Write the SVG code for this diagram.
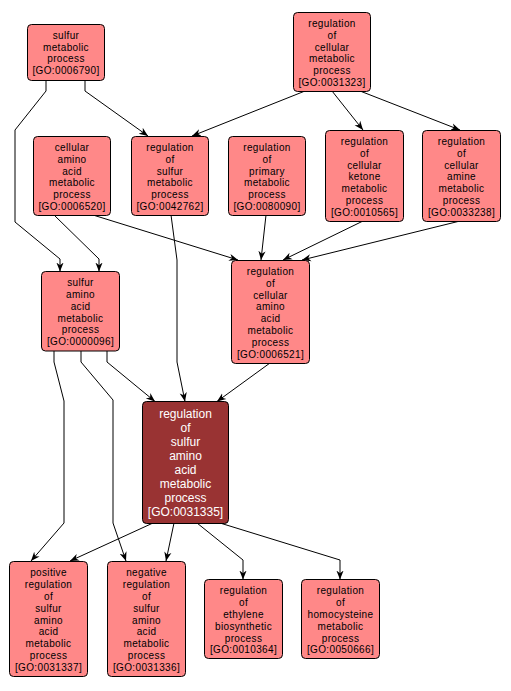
<svg xmlns="http://www.w3.org/2000/svg" width="511" height="691" viewBox="0 0 511 691">
<style>
.n rect{fill:#ff8888;stroke:#000;stroke-width:1}
.n text{font-family:"Liberation Sans",Arial,sans-serif;font-size:10px;letter-spacing:0.35px;text-anchor:middle;fill:#000}
.d rect{fill:#993333;stroke:#000;stroke-width:1}
.d text{font-family:"Liberation Sans",Arial,sans-serif;font-size:12px;text-anchor:middle;fill:#fff}
.e path{fill:none;stroke:#000;stroke-width:1;marker-end:url(#a)}
</style>
<defs>
<marker id="a" viewBox="0 0 10 10" markerWidth="9" markerHeight="9" refX="10" refY="5" orient="auto" markerUnits="userSpaceOnUse">
<path d="M0,1 L10,5 L0,9 L3,5 z" fill="#000"/>
</marker>
</defs>
<rect width="511" height="691" fill="#fff"/>
<g id="edges" class="e">
<path d="M46,80 L46,91 L15,130 L15,222 L60,259 L60,271.5"/>
<path d="M85,80 L85,91 L148,136"/>
<path d="M305,91 L192,136"/>
<path d="M332,91 L363,130"/>
<path d="M360,91 L460,130"/>
<path d="M54,215 L99,259 L99,271.5"/>
<path d="M93,215 L238,260"/>
<path d="M171,215 L177,260 L177,362 L185,401.5"/>
<path d="M266,215 L261,260"/>
<path d="M363,221 L283,260"/>
<path d="M460,221 L302,260"/>
<path d="M107,351 L107,362 L155,401.5"/>
<path d="M270,363 L217,401.5"/>
<path d="M54,351 L54,362 L64,401 L64,523 L31,561"/>
<path d="M81,351 L81,362 L113,400 L113,523 L126,561"/>
<path d="M153,523 L70,561"/>
<path d="M174,523 L166,561"/>
<path d="M197,523 L243,560 L243,579.5"/>
<path d="M220,523 L340,560 L340,579.5"/>
</g>
<g id="GO0006790" class="n"><rect x="27.5" y="24.5" width="77" height="56" rx="4"/>
<text><tspan x="66" y="38.7">sulfur</tspan><tspan x="66" y="50.5">metabolic</tspan><tspan x="66" y="62.3">process</tspan><tspan x="66" y="74.1">[GO:0006790]</tspan></text></g>
<g id="GO0031323" class="n"><rect x="293.5" y="12.5" width="77" height="79" rx="4"/>
<text><tspan x="332" y="27">regulation</tspan><tspan x="332" y="38.8">of</tspan><tspan x="332" y="50.6">cellular</tspan><tspan x="332" y="62.4">metabolic</tspan><tspan x="332" y="74.2">process</tspan><tspan x="332" y="86">[GO:0031323]</tspan></text></g>
<g id="GO0006520" class="n"><rect x="33.5" y="136.5" width="77" height="79" rx="4"/>
<text><tspan x="72" y="151">cellular</tspan><tspan x="72" y="162.8">amino</tspan><tspan x="72" y="174.6">acid</tspan><tspan x="72" y="186.4">metabolic</tspan><tspan x="72" y="198.2">process</tspan><tspan x="72" y="210">[GO:0006520]</tspan></text></g>
<g id="GO0042762" class="n"><rect x="131.5" y="136.5" width="77" height="79" rx="4"/>
<text><tspan x="170" y="151">regulation</tspan><tspan x="170" y="162.8">of</tspan><tspan x="170" y="174.6">sulfur</tspan><tspan x="170" y="186.4">metabolic</tspan><tspan x="170" y="198.2">process</tspan><tspan x="170" y="210">[GO:0042762]</tspan></text></g>
<g id="GO0080090" class="n"><rect x="228.5" y="136.5" width="77" height="79" rx="4"/>
<text><tspan x="267" y="151">regulation</tspan><tspan x="267" y="162.8">of</tspan><tspan x="267" y="174.6">primary</tspan><tspan x="267" y="186.4">metabolic</tspan><tspan x="267" y="198.2">process</tspan><tspan x="267" y="210">[GO:0080090]</tspan></text></g>
<g id="GO0010565" class="n"><rect x="325.5" y="130.5" width="78" height="91" rx="4"/>
<text><tspan x="364.5" y="145">regulation</tspan><tspan x="364.5" y="156.8">of</tspan><tspan x="364.5" y="168.6">cellular</tspan><tspan x="364.5" y="180.4">ketone</tspan><tspan x="364.5" y="192.2">metabolic</tspan><tspan x="364.5" y="204">process</tspan><tspan x="364.5" y="215.8">[GO:0010565]</tspan></text></g>
<g id="GO0033238" class="n"><rect x="422.5" y="130.5" width="78" height="91" rx="4"/>
<text><tspan x="461.5" y="145">regulation</tspan><tspan x="461.5" y="156.8">of</tspan><tspan x="461.5" y="168.6">cellular</tspan><tspan x="461.5" y="180.4">amine</tspan><tspan x="461.5" y="192.2">metabolic</tspan><tspan x="461.5" y="204">process</tspan><tspan x="461.5" y="215.8">[GO:0033238]</tspan></text></g>
<g id="GO0000096" class="n"><rect x="41.5" y="271.5" width="78" height="79.5" rx="4"/>
<text><tspan x="80.5" y="286.2">sulfur</tspan><tspan x="80.5" y="298">amino</tspan><tspan x="80.5" y="309.8">acid</tspan><tspan x="80.5" y="321.6">metabolic</tspan><tspan x="80.5" y="333.4">process</tspan><tspan x="80.5" y="345.2">[GO:0000096]</tspan></text></g>
<g id="GO0006521" class="n"><rect x="231.5" y="260.5" width="78" height="103" rx="4"/>
<text><tspan x="270.5" y="275">regulation</tspan><tspan x="270.5" y="286.8">of</tspan><tspan x="270.5" y="298.6">cellular</tspan><tspan x="270.5" y="310.4">amino</tspan><tspan x="270.5" y="322.2">acid</tspan><tspan x="270.5" y="334">metabolic</tspan><tspan x="270.5" y="345.8">process</tspan><tspan x="270.5" y="357.6">[GO:0006521]</tspan></text></g>
<g id="GO0031335" class="d"><rect x="142.5" y="401.5" width="86" height="122" rx="4"/>
<text><tspan x="185.5" y="417.6">regulation</tspan><tspan x="185.5" y="431.6">of</tspan><tspan x="185.5" y="445.6">sulfur</tspan><tspan x="185.5" y="459.6">amino</tspan><tspan x="185.5" y="473.6">acid</tspan><tspan x="185.5" y="487.6">metabolic</tspan><tspan x="185.5" y="501.6">process</tspan><tspan x="185.5" y="515.6">[GO:0031335]</tspan></text></g>
<g id="GO0031337" class="n"><rect x="9.5" y="561.5" width="78" height="115" rx="4"/>
<text><tspan x="48.5" y="576.3">positive</tspan><tspan x="48.5" y="588.1">regulation</tspan><tspan x="48.5" y="599.9">of</tspan><tspan x="48.5" y="611.7">sulfur</tspan><tspan x="48.5" y="623.5">amino</tspan><tspan x="48.5" y="635.3">acid</tspan><tspan x="48.5" y="647.1">metabolic</tspan><tspan x="48.5" y="658.9">process</tspan><tspan x="48.5" y="670.7">[GO:0031337]</tspan></text></g>
<g id="GO0031336" class="n"><rect x="107.5" y="561.5" width="78" height="115" rx="4"/>
<text><tspan x="146.5" y="576.3">negative</tspan><tspan x="146.5" y="588.1">regulation</tspan><tspan x="146.5" y="599.9">of</tspan><tspan x="146.5" y="611.7">sulfur</tspan><tspan x="146.5" y="623.5">amino</tspan><tspan x="146.5" y="635.3">acid</tspan><tspan x="146.5" y="647.1">metabolic</tspan><tspan x="146.5" y="658.9">process</tspan><tspan x="146.5" y="670.7">[GO:0031336]</tspan></text></g>
<g id="GO0010364" class="n"><rect x="204.5" y="579.5" width="78" height="79" rx="4"/>
<text><tspan x="243.5" y="594.3">regulation</tspan><tspan x="243.5" y="606.1">of</tspan><tspan x="243.5" y="617.9">ethylene</tspan><tspan x="243.5" y="629.7">biosynthetic</tspan><tspan x="243.5" y="641.5">process</tspan><tspan x="243.5" y="653.3">[GO:0010364]</tspan></text></g>
<g id="GO0050666" class="n"><rect x="301.5" y="579.5" width="78" height="79" rx="4"/>
<text><tspan x="340.5" y="594.3">regulation</tspan><tspan x="340.5" y="606.1">of</tspan><tspan x="340.5" y="617.9">homocysteine</tspan><tspan x="340.5" y="629.7">metabolic</tspan><tspan x="340.5" y="641.5">process</tspan><tspan x="340.5" y="653.3">[GO:0050666]</tspan></text></g>
</svg>
